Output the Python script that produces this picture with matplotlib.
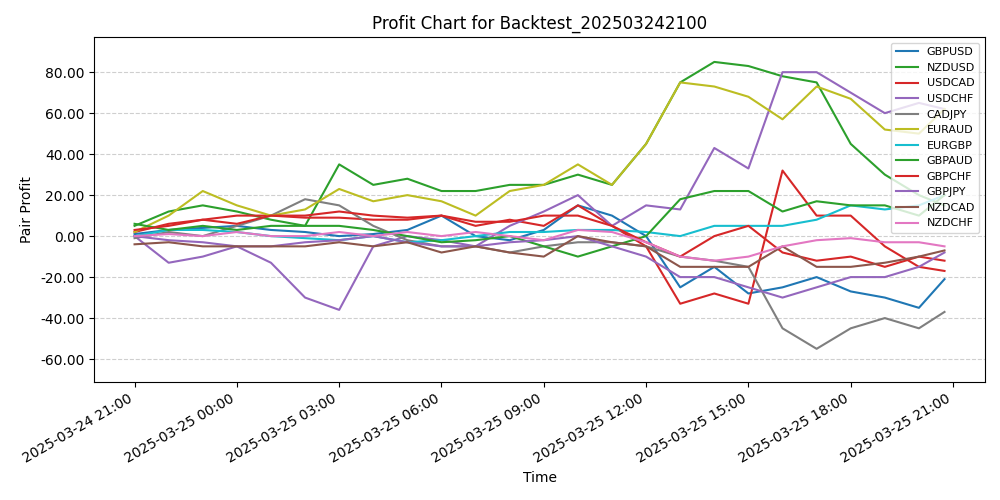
import numpy as np
import pandas as pd
import matplotlib
matplotlib.use("Agg")
import matplotlib.pyplot as plt
import matplotlib.dates as mdates
from matplotlib.ticker import FormatStrFormatter

# hourly samples from 2025-03-24 21:00, last one at 20:45
times = list(pd.date_range("2025-03-24 21:00", periods=24, freq="h")) + [pd.Timestamp("2025-03-25 20:45")]

pairs = ["GBPUSD", "NZDUSD", "USDCAD", "USDCHF", "CADJPY", "EURAUD",
         "EURGBP", "GBPAUD", "GBPCHF", "GBPJPY", "NZDCAD", "NZDCHF"]
colors = ["#1f77b4", "#2ca02c", "#d62728", "#9467bd", "#7f7f7f", "#bcbd22",
          "#17becf", "#2ca02c", "#d62728", "#9467bd", "#8c564b", "#e377c2"]

gbpusd = [1, 3, 4, 5, 3, 2, 0, 1, 3, 10, 0, -2, 3, 15, 10, 0, -25, -15, -28, -25, -20, -27, -30, -35, -21]
nzdusd = [5, 12, 15, 12, 8, 5, 35, 25, 28, 22, 22, 25, 25, 30, 25, 45, 75, 85, 83, 78, 75, 45, 30, 20, 15]
usdcad = [2, 6, 8, 10, 10, 9, 9, 8, 8, 10, 5, 8, 5, 15, 5, -5, -33, -28, -33, 32, 10, 10, -5, -15, -17]
usdchf = [0, -13, -10, -5, -13, -30, -36, -5, 0, -2, -5, 5, 12, 20, 5, 15, 13, 43, 33, 80, 80, 70, 60, 65, 62]
cadjpy = [-1, 2, 0, 5, 10, 18, 15, 5, -2, -5, -5, -8, -5, -3, -3, -5, -10, -12, -15, -45, -55, -45, -40, -45, -37]
euraud = [2, 10, 22, 15, 10, 13, 23, 17, 20, 17, 10, 22, 25, 35, 25, 45, 75, 73, 68, 57, 73, 67, 52, 50, 62]
eurgbp = [0, 3, 3, 2, 0, -1, -2, 0, -3, -2, 0, 2, 2, 3, 3, 2, 0, 5, 5, 5, 8, 15, 13, 15, 20]
gbpaud = [6, 3, 5, 3, 5, 5, 5, 3, 0, -3, -2, 0, -5, -10, -5, 0, 18, 22, 22, 12, 17, 15, 15, 10, 20]
gbpchf = [3, 5, 8, 6, 10, 10, 12, 10, 9, 10, 7, 7, 10, 10, 5, -3, -10, 0, 5, -8, -12, -10, -15, -10, -12]
gbpjpy = [0, -2, -3, -5, -5, -3, -2, 0, -3, -5, -5, -3, -2, 0, -5, -10, -20, -20, -25, -30, -25, -20, -20, -15, -8]
nzdcad = [-4, -3, -5, -5, -5, -5, -3, -5, -3, -8, -5, -8, -10, 0, -3, -5, -15, -15, -15, -5, -15, -15, -13, -10, -7]
nzdchf = [0, 1, 0, 2, 0, 0, 2, 0, 2, 0, 2, 0, -2, 3, 2, -3, -10, -12, -10, -5, -2, -1, -3, -3, -5]

series = [gbpusd, nzdusd, usdcad, usdchf, cadjpy, euraud,
          eurgbp, gbpaud, gbpchf, gbpjpy, nzdcad, nzdchf]

fig, ax = plt.subplots(figsize=(10, 5), dpi=100)
for name, vals, c in zip(pairs, series, colors):
    ax.plot(times, vals, color=c, label=name, linewidth=1.5)

ax.set_title("Profit Chart for Backtest_202503242100")
ax.set_xlabel("Time")
ax.set_ylabel("Pair Profit")
ax.yaxis.set_major_formatter(FormatStrFormatter("%.2f"))
ax.set_ylim(-71, 97)
ax.xaxis.set_major_locator(mdates.HourLocator(byhour=range(0, 24, 3)))
ax.xaxis.set_major_formatter(mdates.DateFormatter("%Y-%m-%d %H:%M"))
ax.grid(axis="y", linestyle="--", alpha=0.6)
ax.legend(loc="upper right", fontsize=8)
fig.autofmt_xdate()
plt.tight_layout()
plt.savefig("out.png")
